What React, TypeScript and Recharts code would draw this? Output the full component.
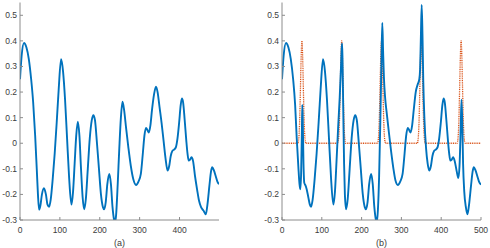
import React from 'react';
import { LineChart, Line, XAxis, YAxis } from 'recharts';

const yTicks = [-0.3, -0.2, -0.1, 0, 0.1, 0.2, 0.3, 0.4, 0.5];
const xTicksA = [0, 100, 200, 300, 400];
const xTicksB = [0, 100, 200, 300, 400, 500];

// Panel (a): blue signal
const aX = [0, 4, 10, 16, 22, 28, 33, 38, 42, 45, 48, 51, 55, 60, 65, 69, 73, 77, 82, 87, 92, 97, 103, 108, 113, 118, 123, 129, 133, 137, 141, 145, 149, 153, 157, 161, 165, 170, 175, 180, 184, 188, 193, 198, 203, 208, 211, 215, 219, 224, 228, 232, 236, 238, 241, 245, 249, 253, 257, 261, 266, 272, 278, 284, 291, 297, 303, 308, 312, 316, 320, 323, 327, 331, 336, 341, 345, 350, 355, 360, 365, 370, 374, 378, 382, 387, 391, 395, 399, 403, 406, 409, 413, 417, 420, 423, 426, 430, 434, 439, 444, 449, 454, 460, 466, 470, 475, 479, 482, 486, 491, 495, 499];
const aV = [0.25, 0.34, 0.392, 0.375, 0.33, 0.25, 0.16, 0.03, -0.1, -0.2, -0.26, -0.245, -0.2, -0.176, -0.2, -0.24, -0.248, -0.22, -0.14, -0.04, 0.08, 0.21, 0.328, 0.28, 0.17, 0.02, -0.13, -0.24, -0.19, -0.08, 0.03, 0.084, 0.03, -0.1, -0.21, -0.258, -0.22, -0.1, 0.02, 0.09, 0.11, 0.09, 0.0, -0.1, -0.2, -0.25, -0.258, -0.23, -0.16, -0.12, -0.16, -0.25, -0.3, -0.31, -0.28, -0.16, -0.02, 0.1, 0.162, 0.13, 0.06, -0.02, -0.09, -0.14, -0.163, -0.15, -0.12, -0.04, 0.03, 0.06, 0.05, 0.042, 0.07, 0.13, 0.19, 0.221, 0.2, 0.14, 0.08, 0.01, -0.06, -0.107, -0.09, -0.05, -0.03, -0.024, -0.015, 0.02, 0.08, 0.15, 0.175, 0.16, 0.09, 0.01, -0.04, -0.068, -0.065, -0.055, -0.07, -0.13, -0.18, -0.225, -0.25, -0.263, -0.278, -0.24, -0.165, -0.11, -0.094, -0.105, -0.13, -0.15, -0.16];

// Panel (b): blue signal with spikes
const bX = [0, 4, 10, 16, 22, 28, 33, 37, 41, 44, 46, 48, 50, 51, 52, 54, 56, 59, 62, 66, 70, 73, 77, 82, 87, 92, 97, 103, 108, 113, 118, 123, 129, 133, 137, 141, 145, 148, 150, 151, 152, 154, 156, 158, 161, 165, 170, 175, 180, 184, 188, 193, 198, 203, 208, 211, 215, 219, 224, 228, 232, 236, 238, 241, 244, 247, 250, 252, 254, 256, 259, 263, 268, 274, 280, 285, 291, 297, 303, 308, 312, 316, 320, 323, 327, 331, 336, 341, 345, 347, 349, 351, 353, 355, 358, 362, 366, 370, 374, 378, 382, 387, 391, 395, 399, 403, 406, 409, 413, 417, 420, 423, 426, 430, 434, 439, 443, 446, 449, 451, 453, 455, 458, 462, 466, 470, 475, 479, 482, 486, 491, 495, 500];
const bV = [0.25, 0.34, 0.392, 0.375, 0.33, 0.25, 0.15, 0.02, -0.09, -0.16, -0.18, -0.12, 0.05, 0.15, 0.1, -0.08, -0.155, -0.165, -0.18, -0.21, -0.24, -0.248, -0.22, -0.14, -0.04, 0.08, 0.21, 0.328, 0.28, 0.17, 0.02, -0.13, -0.24, -0.19, -0.07, 0.06, 0.18, 0.29, 0.37, 0.39, 0.33, 0.12, -0.08, -0.2, -0.258, -0.22, -0.1, 0.02, 0.09, 0.11, 0.09, 0.0, -0.1, -0.2, -0.25, -0.258, -0.23, -0.16, -0.12, -0.16, -0.25, -0.3, -0.31, -0.26, -0.13, 0.08, 0.33, 0.47, 0.36, 0.26, 0.18, 0.12, 0.05, -0.03, -0.1, -0.145, -0.163, -0.15, -0.12, -0.04, 0.03, 0.06, 0.05, 0.042, 0.07, 0.13, 0.2, 0.23, 0.25, 0.29, 0.42, 0.54, 0.42, 0.24, 0.09, -0.02, -0.08, -0.107, -0.09, -0.05, -0.03, -0.024, -0.015, 0.02, 0.08, 0.15, 0.175, 0.16, 0.09, 0.01, -0.04, -0.068, -0.065, -0.055, -0.07, -0.11, -0.136, -0.09, 0.06, 0.17, 0.08, -0.08, -0.19, -0.25, -0.278, -0.24, -0.165, -0.11, -0.094, -0.105, -0.13, -0.15, -0.162];

// Panel (b): red dotted pulses
const pulseX = [0, 40, 42, 44, 46, 48, 50, 52, 54, 56, 58, 60, 140, 142, 144, 146, 148, 150, 152, 154, 156, 158, 160, 240, 242, 244, 246, 248, 250, 252, 254, 256, 258, 260, 340, 342, 344, 346, 348, 350, 352, 354, 356, 358, 360, 440, 442, 444, 446, 448, 450, 452, 454, 456, 458, 460, 500];
const pulseV = [0, 0, 0.015, 0.07, 0.19, 0.33, 0.4, 0.33, 0.19, 0.07, 0.015, 0, 0, 0.015, 0.07, 0.19, 0.33, 0.4, 0.33, 0.19, 0.07, 0.015, 0, 0, 0.015, 0.07, 0.19, 0.33, 0.4, 0.33, 0.19, 0.07, 0.015, 0, 0, 0.015, 0.07, 0.19, 0.33, 0.4, 0.33, 0.19, 0.07, 0.015, 0, 0, 0.015, 0.07, 0.19, 0.33, 0.4, 0.33, 0.19, 0.07, 0.015, 0, 0];

const toRows = (xs: number[], vs: number[]) => xs.map((x, i) => ({ x, v: vs[i] }));

const AXIS = '#8c8c8c';
const TEXT = '#3c3c3c';
const FONT = '"Liberation Sans", Arial, Helvetica, sans-serif';
const tickStyle = { fill: TEXT, fontSize: 8.5, fontFamily: FONT };
const fmtY = (v: number) => (Math.abs(v) < 1e-9 ? '0' : v.toFixed(1));

type PanelProps = {
  left: number;
  yAxisWidth: number;
  rightMargin: number;
  xMax: number;
  xTicks: number[];
  label: string;
  children: React.ReactNode;
};

function Panel({ left, yAxisWidth, rightMargin, xMax, xTicks, label, children }: PanelProps) {
  return (
    <div style={{ position: 'absolute', left, top: 0, width: 245, height: 248 }}>
      <LineChart width={245} height={248} margin={{ top: 2.5, right: rightMargin, bottom: 0, left: 0 }}>
        <XAxis
          xAxisId="b"
          type="number"
          dataKey="x"
          domain={[0, xMax]}
          ticks={xTicks}
          interval={0}
          allowDataOverflow
          height={28}
          stroke={AXIS}
          tickSize={-3}
          tickMargin={10}
          tick={tickStyle}
          label={{ value: label, position: 'insideBottom', offset: 2.5, fill: TEXT, fontSize: 9, fontFamily: FONT }}
        />
        <XAxis
          xAxisId="t"
          orientation="top"
          type="number"
          dataKey="x"
          domain={[0, xMax]}
          ticks={xTicks}
          interval={0}
          allowDataOverflow
          height={0}
          stroke={AXIS}
          tickSize={-3}
          tick={false}
        />
        <YAxis
          yAxisId="l"
          type="number"
          domain={[-0.3, 0.55]}
          ticks={yTicks}
          interval={0}
          allowDataOverflow
          width={yAxisWidth}
          stroke={AXIS}
          tickSize={-3}
          tickMargin={6}
          tick={tickStyle}
          tickFormatter={fmtY}
        />
        <YAxis
          yAxisId="r"
          orientation="right"
          type="number"
          domain={[-0.3, 0.55]}
          ticks={yTicks}
          interval={0}
          allowDataOverflow
          width={0}
          stroke={AXIS}
          tickSize={-3}
          tick={false}
        />
        {children}
      </LineChart>
    </div>
  );
}

export default function App() {
  const dataA = toRows(aX, aV);
  const dataB = toRows(bX, bV);
  const dataP = toRows(pulseX, pulseV);
  return (
    <div style={{ position: 'absolute', left: 0, top: 0, width: 490, height: 248, background: '#fff' }}>
      <Panel left={0} yAxisWidth={20} rightMargin={26} xMax={499} xTicks={xTicksA} label="(a)">
        <Line xAxisId="b" yAxisId="l" data={dataA} dataKey="v" type="monotone" stroke="#0072BD" strokeWidth={1.9} dot={false} isAnimationActive={false} />
      </Panel>
      <Panel left={245} yAxisWidth={37} rightMargin={9} xMax={500} xTicks={xTicksB} label="(b)">
        <Line xAxisId="b" yAxisId="l" data={dataP} dataKey="v" type="monotone" stroke="#D95319" strokeWidth={1.3} strokeDasharray="1 0.8" dot={false} isAnimationActive={false} />
        <Line xAxisId="b" yAxisId="l" data={dataB} dataKey="v" type="monotone" stroke="#0072BD" strokeWidth={1.9} dot={false} isAnimationActive={false} />
      </Panel>
    </div>
  );
}
